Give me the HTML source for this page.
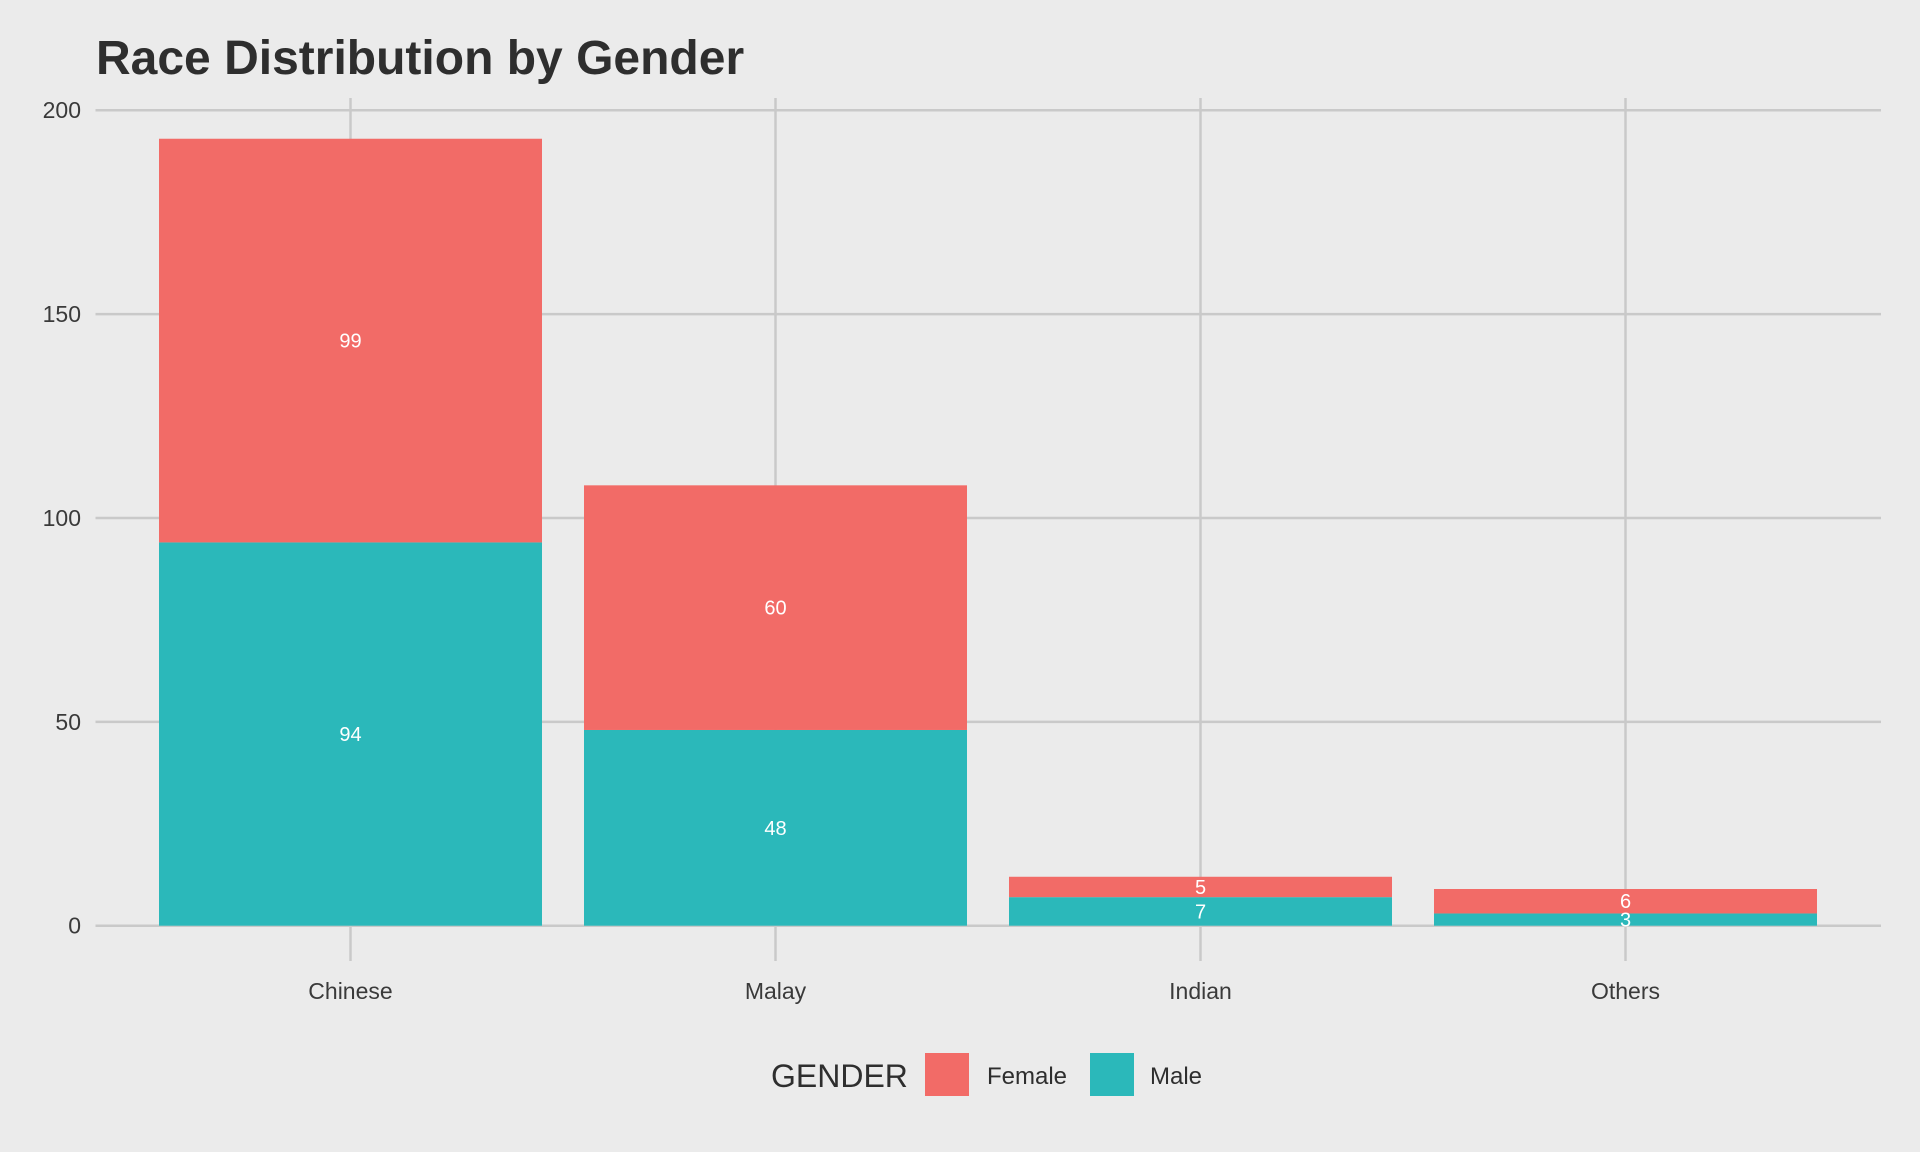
<!DOCTYPE html>
<html><head><meta charset="utf-8"><style>
html,body{margin:0;padding:0;background:#ebebeb;}
svg{display:block;font-family:"Liberation Sans",Arial,sans-serif;}
</style></head><body>
<svg id="chart" width="1920" height="1152" viewBox="0 0 1920 1152">
<rect width="1920" height="1152" fill="#ebebeb"/>
<text x="96" y="74" font-size="48" font-weight="bold" fill="#2e2e2e">Race Distribution by Gender</text>
<g id="grid"></g><g id="bars"></g><g id="labels"></g><g id="axes"></g>
<g>
<text x="771" y="1087" font-size="32" fill="#2e2e2e">GENDER</text>
<rect x="925" y="1053" width="44" height="43" fill="#f26b67"/>
<text x="987" y="1084" font-size="24" fill="#2e2e2e">Female</text>
<rect x="1090" y="1053" width="44" height="43" fill="#2bb8ba"/>
<text x="1150" y="1084" font-size="24" fill="#2e2e2e">Male</text>
</g>
</svg>
<script>
const categories=["Chinese","Malay","Indian","Others"];
const maleValues=[94,48,7,3];
const femaleValues=[99,60,5,6];
const yTicks=[0,50,100,150,200];
const NS="http://www.w3.org/2000/svg";
const y0=925.7,yPer=(925.7-110.2)/200;
const xLeft=95.5,xRight=1881;
const bandStart=159,bandStep=425,barW=383;
function y(v){return y0-v*yPer;}
function xc(i){return bandStart+barW/2+i*bandStep;}
function mk(tag,attrs,parent){const e=document.createElementNS(NS,tag);for(const k in attrs)e.setAttribute(k,attrs[k]);document.getElementById(parent).appendChild(e);return e;}
yTicks.forEach(t=>{
  const l=mk('line',{x1:xLeft,x2:xRight,y1:y(t),y2:y(t),stroke:'#c9c9c9','stroke-width':2.5},'grid');
  
  
  const tx=mk('text',{x:81,y:y(t)+8,'text-anchor':'end','font-size':23,fill:'#3a3a3a'},'axes');
  tx.textContent=t;
  
  
});
categories.forEach((c,i)=>{
  const l=mk('line',{x1:xc(i),x2:xc(i),y1:98,y2:961,stroke:'#c9c9c9','stroke-width':2.5},'grid');
  
  
  const tx=mk('text',{x:xc(i),y:999,'text-anchor':'middle','font-size':23,fill:'#3a3a3a'},'axes');
  tx.textContent=c;
  
  
  const m=maleValues[i],f=femaleValues[i];
  const bm=mk('rect',{x:xc(i)-barW/2,y:y(m),width:barW,height:y(0)-y(m),fill:'#2bb8ba'},'bars');
  
  
  const bf=mk('rect',{x:xc(i)-barW/2,y:y(m+f),width:barW,height:y(m)-y(m+f),fill:'#f26b67'},'bars');
  
  
  const lm=mk('text',{x:xc(i),y:y(m/2)+7,'text-anchor':'middle','font-size':20,fill:'#ffffff'},'labels');
  lm.textContent=m;
  
  
  const lf=mk('text',{x:xc(i),y:y(m+f/2)+7,'text-anchor':'middle','font-size':20,fill:'#ffffff'},'labels');
  lf.textContent=f;
  
  
});
</script>
</body></html>
